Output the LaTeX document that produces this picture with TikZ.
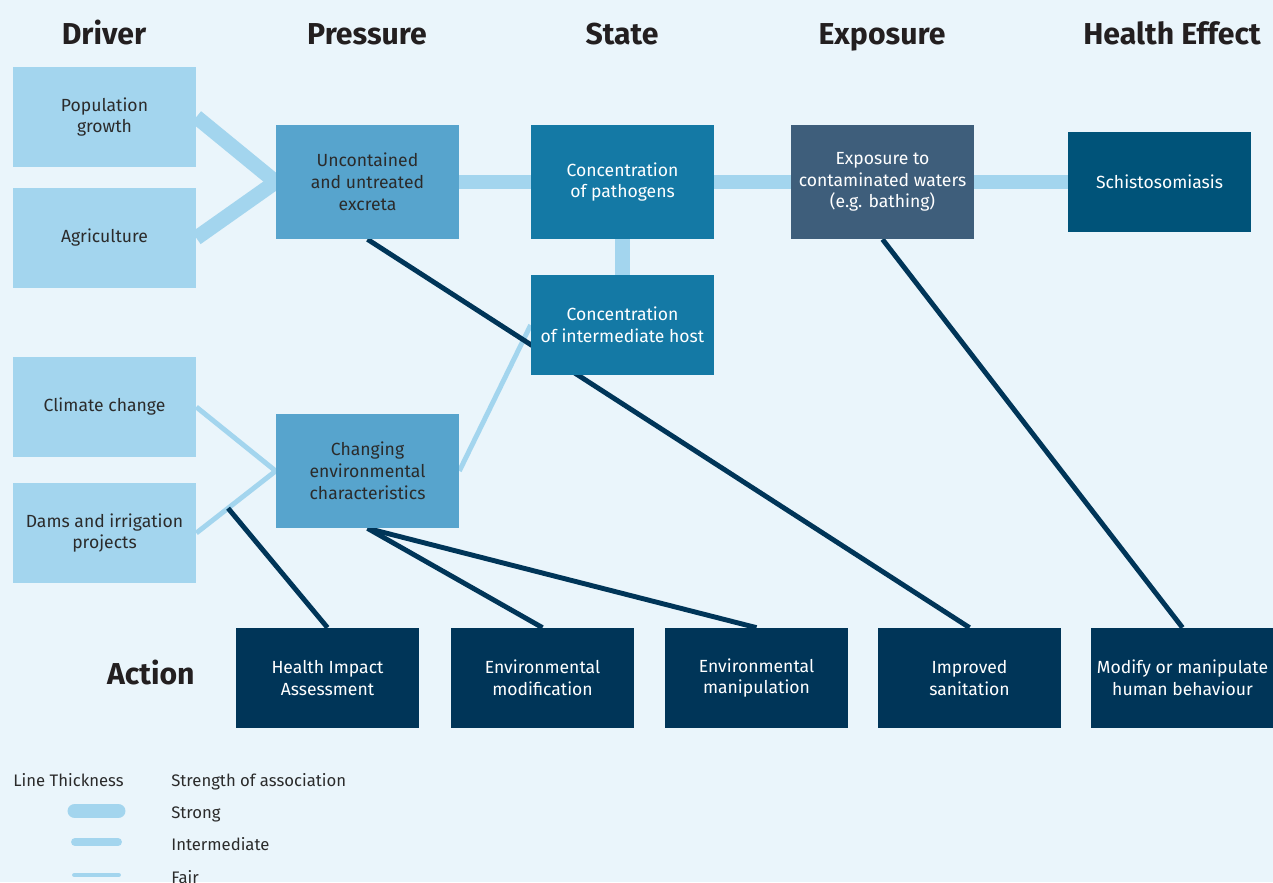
\documentclass[tikz,border=0pt]{standalone}
\usepackage{fontspec}
\setmainfont{Fira Sans}
\usetikzlibrary{calc,backgrounds}

\definecolor{paper}{HTML}{EAF5FB}
\definecolor{driverfill}{HTML}{A3D5EE}
\definecolor{pressurefill}{HTML}{57A4CD}
\definecolor{statefill}{HTML}{1479A5}
\definecolor{exposurefill}{HTML}{3E5E7B}
\definecolor{effectfill}{HTML}{005379}
\definecolor{actionfill}{HTML}{003558}
\definecolor{headtext}{HTML}{231F20}
\definecolor{boxtext}{HTML}{2B2B2B}

\begin{document}
\begin{tikzpicture}[x=0.02cm, y=-0.02cm,
    box/.style={rectangle, inner sep=0pt, minimum width=3.66cm, minimum height=2cm,
                align=center, font=\fontsize{10}{12.4}\selectfont},
    tall/.style={minimum height=2.28cm},
    head/.style={anchor=base, inner sep=0pt, text=headtext, font=\fontsize{17.2}{20}\selectfont\bfseries},
    note/.style={anchor=base west, inner sep=0pt, text=boxtext, font=\fontsize{9.5}{11}\selectfont},
    strong/.style={line width=8.5pt, draw=driverfill},
    fair/.style={line width=2.8pt, draw=driverfill},
    action/.style={line width=2.8pt, draw=actionfill}]
    \useasboundingbox (0,0) rectangle (1273,882);

    % column heads
    \node[head] (hdriver) at (104, 45) {Driver};
    \node[head] (hpressure) at (367, 45) {Pressure};
    \node[head] (hstate) at (622, 45) {State};
    \node[head] (hexposure) at (882, 45) {Exposure};
    \node[head] (heffect) at (1172, 45) {Health Effect};
    \node[head, anchor=base east] (haction) at (195, 684) {Action};

    % drivers
    \node[box, fill=driverfill, text=boxtext] (pop) at (104.5, 117) {Population\\growth};
    \node[box, fill=driverfill, text=boxtext] (agr) at (104.5, 238) {Agriculture};
    \node[box, fill=driverfill, text=boxtext] (clim) at (104.5, 407) {Climate change};
    \node[box, fill=driverfill, text=boxtext] (dams) at (104.5, 533) {Dams and irrigation\\projects};

    % pressures
    \node[box, tall, fill=pressurefill, text=boxtext] (unc) at (367.5, 182) {Uncontained\\and untreated\\excreta};
    \node[box, tall, fill=pressurefill, text=boxtext] (chg) at (367.5, 471) {Changing\\environmental\\characteristics};

    % states
    \node[box, tall, fill=statefill, text=white] (path) at (622.5, 182) {Concentration\\of pathogens};
    \node[box, fill=statefill, text=white] (host) at (622.5, 325) {Concentration\\of intermediate host};

    % exposure and health effect
    \node[box, tall, fill=exposurefill, text=white] (expo) at (882.5, 182) {Exposure to\\contaminated waters\\(e.g. bathing)};
    \node[box, fill=effectfill, text=white] (schisto) at (1159.5, 182) {Schistosomiasis};

    % actions
    \node[box, fill=actionfill, text=white] (hia) at (327.5, 678) {Health Impact\\Assessment};
    \node[box, fill=actionfill, text=white] (emod) at (542.5, 678) {Environmental\\modification};
    \node[box, fill=actionfill, text=white] (eman) at (756.5, 678) {Environmental\\manipulation};
    \node[box, fill=actionfill, text=white] (san) at (969.5, 678) {Improved\\sanitation};
    \node[box, fill=actionfill, text=white] (behav) at (1182.5, 678) {Modify or manipulate\\human behaviour};

    \begin{pgfonlayer}{background}
        \fill[paper] (0,0) rectangle (1273,882);

        \draw[strong] (pop.east) -- (unc.west);
        \draw[strong] (agr.east) -- (unc.west);
        \draw[strong] (unc) -- (path);
        \draw[strong] (path) -- (host);
        \draw[strong] (path) -- (expo);
        \draw[strong] (expo) -- (schisto);

        \draw[fair] (clim.east) -- (chg.west);
        \draw[fair] (dams.east) -- (chg.west);
        \draw[fair] (chg.east) -- (host.west);

        \coordinate (damslink) at ($(dams.east)!0.4!(chg.west)$);
        \draw[action] (damslink) -- (hia.north);
        \draw[action] (chg.south) -- (emod.north);
        \draw[action] (chg.south) -- (eman.north);
        \draw[action] (unc.south) -- (san.north);
        \draw[action] (expo.south) -- (behav.north);
    \end{pgfonlayer}

    % legend
    \node[note] (lthick) at (13, 786) {Line Thickness};
    \node[note] (lstrength) at (171, 786) {Strength of association};
    \node[note] (lstrong) at (171, 818) {Strong};
    \node[note] (linter) at (171, 850) {Intermediate};
    \node[note] (lfair) at (171, 883) {Fair};
    \coordinate (ks1) at (75, 811);
    \coordinate (ks2) at (118, 811);
    \coordinate (ki1) at (75, 842);
    \coordinate (ki2) at (118, 842);
    \coordinate (kf1) at (74.5, 875);
    \coordinate (kf2) at (118.5, 875);
    \draw[strong, line cap=round] (ks1) -- (ks2);
    \draw[line width=4.5pt, draw=driverfill, line cap=round] (ki1) -- (ki2);
    \draw[fair, line cap=round] (kf1) -- (kf2);
\end{tikzpicture}
\end{document}
